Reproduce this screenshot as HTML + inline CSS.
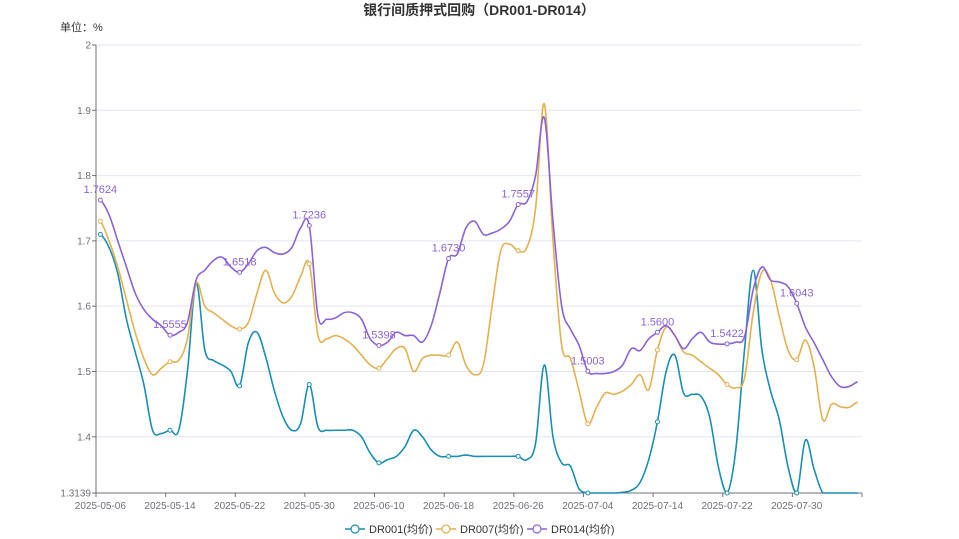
<!DOCTYPE html>
<html><head><meta charset="utf-8"><style>
body{margin:0;background:#fff;}
svg{display:block;font-family:"Liberation Sans","Noto Sans CJK SC",sans-serif;}
</style></head><body>
<svg id="chart" width="959" height="539">
<text x="479" y="15" text-anchor="middle" font-size="14" font-weight="bold" fill="#333">银行间质押式回购（DR001-DR014）</text>
<text x="60" y="31" font-size="11" fill="#333">单位：%</text>
<g id="grid"></g>
<g id="axes"></g>
<g id="series"></g>
<g id="labels"></g>
<g id="legend"></g>
</svg>
<script>
const xLabels=["2025-05-06","2025-05-14","2025-05-22","2025-05-30","2025-06-10","2025-06-18","2025-06-26","2025-07-04","2025-07-14","2025-07-22","2025-07-30"];
const yTicks=[1.3139,1.4,1.5,1.6,1.7,1.8,1.9,2];
const dr001=[1.71,1.69,1.65,1.58,1.53,1.48,1.41,1.405,1.41,1.41,1.50,1.635,1.533,1.517,1.51,1.50,1.478,1.544,1.56,1.522,1.47,1.43,1.41,1.42,1.48,1.415,1.41,1.41,1.41,1.41,1.40,1.375,1.36,1.365,1.37,1.385,1.41,1.40,1.38,1.37,1.37,1.37,1.372,1.37,1.37,1.37,1.37,1.37,1.37,1.365,1.39,1.51,1.40,1.36,1.355,1.32,1.3139,1.3139,1.3139,1.3139,1.315,1.318,1.33,1.365,1.423,1.50,1.525,1.467,1.465,1.462,1.43,1.354,1.3139,1.38,1.533,1.655,1.533,1.47,1.426,1.354,1.3139,1.395,1.35,1.3139,1.3139,1.3139,1.3139,1.3139];
const dr007=[1.73,1.70,1.66,1.61,1.56,1.52,1.495,1.505,1.515,1.517,1.55,1.635,1.60,1.59,1.58,1.57,1.565,1.575,1.62,1.655,1.62,1.605,1.615,1.645,1.665,1.555,1.55,1.555,1.55,1.54,1.525,1.51,1.505,1.52,1.535,1.535,1.50,1.52,1.525,1.525,1.525,1.545,1.51,1.495,1.51,1.60,1.685,1.695,1.685,1.69,1.75,1.91,1.70,1.54,1.52,1.47,1.42,1.445,1.467,1.465,1.47,1.48,1.495,1.472,1.533,1.568,1.555,1.53,1.525,1.515,1.505,1.495,1.48,1.475,1.49,1.59,1.652,1.64,1.584,1.533,1.518,1.548,1.507,1.426,1.45,1.446,1.445,1.453];
const dr014=[1.7624,1.74,1.70,1.66,1.62,1.595,1.58,1.57,1.5555,1.56,1.575,1.64,1.655,1.67,1.675,1.66,1.6518,1.665,1.685,1.69,1.682,1.68,1.69,1.72,1.7236,1.585,1.58,1.582,1.59,1.59,1.58,1.55,1.5398,1.545,1.56,1.555,1.555,1.545,1.57,1.62,1.673,1.68,1.72,1.73,1.71,1.712,1.718,1.73,1.7557,1.76,1.80,1.889,1.73,1.60,1.565,1.54,1.5003,1.497,1.497,1.50,1.51,1.535,1.532,1.55,1.56,1.57,1.555,1.535,1.55,1.56,1.545,1.542,1.5422,1.545,1.553,1.625,1.66,1.64,1.637,1.63,1.6043,1.568,1.544,1.518,1.492,1.477,1.477,1.484];
const seriesNames=["DR001(均价)","DR007(均价)","DR014(均价)"];
const colors=["#1a8eb5","#e3b150","#8b63d8"];
const NS="http://www.w3.org/2000/svg";
const L=96,R=862,T=45,B=493,yMin=1.3139,yMax=2;
const N=dr001.length;
const step=(R-L)/N;
const xs=i=>L+step*(i+0.5);
const ys=v=>B-(v-yMin)/(yMax-yMin)*(B-T);
function fmt(v){let s=String(v);const d=(s.split('.')[1]||'').length;return d>0&&d<4?v.toFixed(4):s;}
function mk(tag,attrs,parent){const e=document.createElementNS(NS,tag);for(const k in attrs)e.setAttribute(k,attrs[k]);parent.appendChild(e);return e;}
const grid=document.getElementById('grid'),axes=document.getElementById('axes');
yTicks.forEach(t=>{
  const y=ys(t);
  if(t!==yMin){const l=mk('line',{x1:L,x2:R,y1:y,y2:y,stroke:'#e0e6f1'},grid);}
  const tk=mk('line',{x1:L-4,x2:L,y1:y,y2:y,stroke:'#6e7079'},axes);
  const tx=mk('text',{x:L-5,y:y+3.5,'text-anchor':'end','font-size':'10',fill:'#6e7079'},axes);tx.textContent=String(t);
  
});
let a=mk('line',{x1:L,x2:L,y1:T,y2:B,stroke:'#6e7079'},axes);
a=mk('line',{x1:L,x2:R,y1:B,y2:B,stroke:'#6e7079'},axes);
xLabels.forEach((lb,k)=>{
  const x=xs(k*8);
  const tk=mk('line',{x1:L+step*k*8,x2:L+step*k*8,y1:B,y2:B+4,stroke:'#6e7079'},axes);
  const tx=mk('text',{x:x,y:B+16,'text-anchor':'middle','font-size':'10',fill:'#6e7079'},axes);tx.textContent=lb;
  
});
const tk2=mk('line',{x1:R,x2:R,y1:B,y2:B+4,stroke:'#6e7079'},axes);
function pathFor(d){
  const p=d.map((v,i)=>[xs(i),ys(v)]);
  let s=`M${p[0][0]},${p[0][1]}`;const t=0.35;
  for(let i=0;i<p.length-1;i++){
    const p0=p[i-1]||p[i],p1=p[i],p2=p[i+1],p3=p[i+2]||p[i+1];
    let c1y=p1[1]+(p2[1]-p0[1])*t/2,c2y=p2[1]-(p3[1]-p1[1])*t/2;
    c1y=Math.max(Math.min(c1y,B),T);c2y=Math.max(Math.min(c2y,B),T);
    s+=` C${p1[0]+step*t},${c1y} ${p2[0]-step*t},${c2y} ${p2[0]},${p2[1]}`;
  }
  return s;
}
const sg=document.getElementById('series'),lg=document.getElementById('labels');
[dr001,dr007,dr014].forEach((d,si)=>{
  const pth=mk('path',{d:pathFor(d),fill:'none',stroke:colors[si],'stroke-width':1.6},sg);
  
  
  for(let i=0;i<N;i+=8){
    const c=mk('circle',{cx:xs(i),cy:ys(d[i]),r:2,fill:'#fff',stroke:colors[si],'stroke-width':1},sg);
    
    
    if(si===2){
      const tx=mk('text',{x:xs(i),y:ys(d[i])-7,'text-anchor':'middle','font-size':'11',fill:colors[2]},lg);
      tx.textContent=fmt(d[i]);
      
      
    }
  }
});
const leg=document.getElementById('legend');
const lx=[345,436,527];
seriesNames.forEach((n,i)=>{
  const g=mk('g',{},leg);
  
  
  mk('line',{x1:lx[i],x2:lx[i]+20,y1:529,y2:529,stroke:colors[i],'stroke-width':1.6},g);
  mk('circle',{cx:lx[i]+10,cy:529,r:4,fill:'#fff',stroke:colors[i],'stroke-width':1.2},g);
  const t=mk('text',{x:lx[i]+24,y:533,'font-size':'11',fill:'#333'},g);t.textContent=n;
});
</script>
</body></html>
